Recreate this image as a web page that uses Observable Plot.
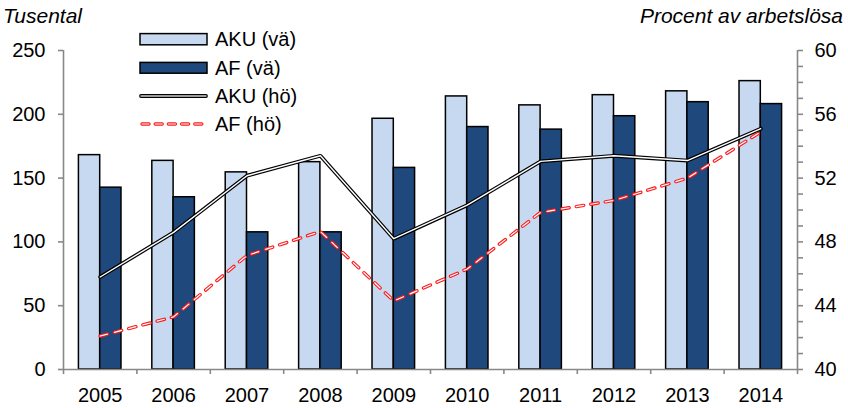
<!DOCTYPE html>
<html><head><meta charset="utf-8">
<script src="https://cdn.jsdelivr.net/npm/d3@7"></script>
<script src="https://cdn.jsdelivr.net/npm/@observablehq/plot@0.6"></script>
<style>
body{margin:0;background:#fff;}
#chart svg{display:block;}
</style>
</head><body>
<div id="chart"></div>
<script>
const years = [2005, 2006, 2007, 2008, 2009, 2010, 2011, 2012, 2013, 2014];
const akuV = [168, 163.5, 154.5, 162.5, 196.5, 214, 207, 215, 218, 226];
const afV  = [142.5, 135, 107.5, 107.5, 158, 190, 188, 198.5, 209.5, 208];
const akuH = [45.8, 48.6, 52.15, 53.4, 48.2, 50.3, 53.05, 53.4, 53.1, 55.1];
const afH  = [42.1, 43.3, 47.15, 48.65, 44.3, 46.3, 49.85, 50.6, 52.0, 54.9];
const leftTicks = [0, 50, 100, 150, 200, 250];
const rightMinor = [40,41,42,43,44,45,46,47,48,49,50,51,52,53,54,55,56,57,58,59,60];
const rightLabels = [40, 44, 48, 52, 56, 60];
const leftTitle = "Tusental";
const rightTitle = "Procent av arbetslösa";
const legendLabels = ["AKU (vä)", "AF (vä)", "AKU (hö)", "AF (hö)"];

const LIGHT = "#c6d9f1", DARK = "#1f497d", AXIS = "#888888", RED = "#ff1a1a";
const rMin = 40, rMax = 60, lMax = 250;
const toL = v => (v - rMin) * lMax / (rMax - rMin);
const bw = 0.29;

const data = years.map((year, i) => ({year, akuV: akuV[i], afV: afV[i], akuH: akuH[i], afH: afH[i]}));
const x0 = years[0] - 0.5, x1 = years[years.length - 1] + 0.5;
const bounds = [x0, ...years.map(y => y + 0.5)];

const plot = Plot.plot({
  width: 848, height: 408,
  marginTop: 50, marginBottom: 39, marginLeft: 63, marginRight: 51,
  style: {fontFamily: "'Liberation Sans', Arial, sans-serif", fontSize: "20px", color: "black", background: "white"},
  x: {type: "linear", domain: [x0, x1], label: null},
  y: {domain: [0, lMax], label: null},
  marks: [
    Plot.rectY(data, {x1: d => d.year - bw, x2: d => d.year, y: "akuV", fill: LIGHT, stroke: "black", strokeWidth: 1.5}),
    Plot.rectY(data, {x1: d => d.year, x2: d => d.year + bw, y: "afV", fill: DARK, stroke: "black", strokeWidth: 1.5}),
    Plot.ruleY([0], {stroke: AXIS, strokeWidth: 1.6}),
    Plot.ruleX([x0, x1], {y1: 0, y2: lMax, stroke: AXIS, strokeWidth: 1.6}),
    Plot.axisY({anchor: "left", ticks: leftTicks, tickSize: 5, tickPadding: 13, stroke: AXIS, strokeWidth: 1.6, fill: "black", label: null}),
    Plot.axisY({anchor: "right", ticks: rightMinor.map(toL), tickSize: 5, tickPadding: 12, stroke: AXIS, strokeWidth: 1.6, fill: "black", label: null,
      tickFormat: d => { const v = Math.round(d * (rMax - rMin) / lMax + rMin); return rightLabels.includes(v) ? String(v) : ""; }}),
    Plot.axisX({ticks: bounds, tickSize: 5, stroke: AXIS, strokeWidth: 1.6, tickFormat: () => "", label: null}),
    Plot.axisX({ticks: years, tickSize: 0, tickPadding: 18, fill: "black", tickFormat: d => String(d), label: null}),
    Plot.line(data, {x: "year", y: d => toL(d.akuH), stroke: "black", strokeWidth: 3.8, strokeLinejoin: "miter"}),
    Plot.line(data, {x: "year", y: d => toL(d.akuH), stroke: "white", strokeWidth: 1.4, strokeLinejoin: "miter"}),
    Plot.line(data, {x: "year", y: d => toL(d.afH), stroke: RED, strokeWidth: 3.4, strokeDasharray: "7.5,7.2", strokeLinecap: "round"}),
    Plot.line(data, {x: "year", y: d => toL(d.afH), stroke: "white", strokeWidth: 1.2, strokeDasharray: "7.5,7.2", strokeLinecap: "round"})
  ]
});
document.getElementById("chart").appendChild(plot);

const svg = d3.select(plot);
const font = "'Liberation Sans', Arial, sans-serif";
svg.append("text").attr("x", 3).attr("y", 22.6).attr("text-anchor", "start").attr("font-style", "italic").attr("font-size", 21).attr("font-family", font).text(leftTitle);
svg.append("text").attr("x", 843).attr("y", 22.6).attr("text-anchor", "end").attr("font-style", "italic").attr("font-size", 21).attr("font-family", font).text(rightTitle);

const lg = svg.append("g").attr("text-anchor", "start");
const rowY = [39.2, 67.8, 96, 124];
const sx = 140, sw = 67;
lg.append("rect").attr("x", sx).attr("y", rowY[0] - 5.6).attr("width", sw).attr("height", 11.2).attr("fill", LIGHT).attr("stroke", "black").attr("stroke-width", 1.5);
lg.append("rect").attr("x", sx).attr("y", rowY[1] - 5.4).attr("width", sw).attr("height", 10.8).attr("fill", DARK).attr("stroke", "black").attr("stroke-width", 1.5);
lg.append("line").attr("x1", sx + 1).attr("x2", sx + sw - 1).attr("y1", rowY[2]).attr("y2", rowY[2]).attr("stroke", "black").attr("stroke-width", 3.8).attr("stroke-linecap", "round");
lg.append("line").attr("x1", sx + 1).attr("x2", sx + sw - 1).attr("y1", rowY[2]).attr("y2", rowY[2]).attr("stroke", "#d0d0d0").attr("stroke-width", 1.4).attr("stroke-linecap", "round");
lg.append("line").attr("x1", sx + 2).attr("x2", sx + sw - 2).attr("y1", rowY[3]).attr("y2", rowY[3]).attr("stroke", RED).attr("stroke-width", 3.4).attr("stroke-dasharray", "7,6.2").attr("stroke-linecap", "round");
lg.append("line").attr("x1", sx + 2).attr("x2", sx + sw - 2).attr("y1", rowY[3]).attr("y2", rowY[3]).attr("stroke", "white").attr("stroke-width", 1.2).attr("stroke-dasharray", "7,6.2").attr("stroke-linecap", "round");
legendLabels.forEach((t, i) => {
  lg.append("text").attr("x", 215).attr("y", rowY[i]).attr("dy", "0.35em").attr("font-size", 20).attr("font-family", font).text(t);
});
</script>
</body></html>
